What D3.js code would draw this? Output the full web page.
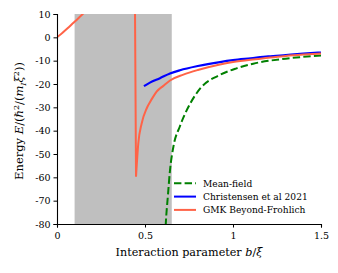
<!DOCTYPE html>
<html>
<head>
<meta charset="utf-8">
<script src="https://cdn.jsdelivr.net/npm/d3@7"></script>
<style>
  body { margin: 0; background: #fff; }
  svg text { font-family: "DejaVu Serif", serif; fill: #000; }
</style>
</head>
<body>
<div id="chart"></div>
<script>
// values
const xTicks = [0, 0.5, 1, 1.5];
const yTicks = [10, 0, -10, -20, -30, -40, -50, -60, -70, -80];
const shadeRange = [0.1, 0.652];

const meanField = [
  [0.612, -90], [0.618, -80], [0.63, -68], [0.642, -57], [0.661, -47], [0.699, -38],
  [0.756, -28.5], [0.815, -21.8], [0.926, -16.1], [1.02, -13.3], [1.115, -11.3],
  [1.267, -9.4], [1.38, -8.5], [1.5, -7.8]
];
const christensen = [
  [0.494, -20.9], [0.528, -19.4], [0.585, -17.5], [0.642, -15.5], [0.699, -14.1],
  [0.8, -12.3], [0.926, -10.6], [1.0, -9.8], [1.1, -9.0], [1.2, -8.2],
  [1.3, -7.6], [1.4, -7.0], [1.5, -6.5]
];
const gmkLeft = [
  [0, 0], [0.03, 1.9], [0.06, 3.9], [0.09, 6.0], [0.12, 8.1], [0.16, 11]
];
const gmkRight = [
  [0.443, 14], [0.449, -59.7], [0.462, -45.4], [0.481, -36.9], [0.51, -30.4],
  [0.528, -27.8], [0.547, -25.4], [0.566, -23.3], [0.604, -20.8], [0.642, -18.5],
  [0.718, -16], [0.8, -14], [0.926, -11.6], [1.0, -10.6], [1.1, -9.6], [1.2, -8.8],
  [1.3, -8.0], [1.4, -7.4], [1.5, -6.9]
];

const width = 338, height = 273;
const margin = { left: 57, right: 17, top: 14, bottom: 49 };

const svg = d3.select("#chart").append("svg")
  .attr("width", width).attr("height", height);

const x = d3.scaleLinear().domain([0, 1.5]).range([margin.left, width - margin.right]);
const y = d3.scaleLinear().domain([-80, 10]).range([height - margin.bottom, margin.top]);

svg.append("defs").append("clipPath").attr("id", "plot-clip")
  .append("rect")
  .attr("x", x(0)).attr("y", y(10))
  .attr("width", x(1.5) - x(0)).attr("height", y(-80) - y(10));

// shaded region
svg.append("rect")
  .attr("x", x(shadeRange[0])).attr("y", y(10))
  .attr("width", x(shadeRange[1]) - x(shadeRange[0]))
  .attr("height", y(-80) - y(10))
  .attr("fill", "#bfbfbf");

const line = d3.line().x(d => x(d[0])).y(d => y(d[1])).curve(d3.curveMonotoneX);
const plot = svg.append("g").attr("clip-path", "url(#plot-clip)");

plot.append("path").attr("d", line(meanField))
  .attr("fill", "none").attr("stroke", "green").attr("stroke-width", 2)
  .attr("stroke-dasharray", "7.4,3.2");
plot.append("path").attr("d", line(christensen))
  .attr("fill", "none").attr("stroke", "blue").attr("stroke-width", 2.2);
plot.append("path").attr("d", line(gmkLeft))
  .attr("fill", "none").attr("stroke", "tomato").attr("stroke-width", 2);
// the spike is a straight drop, then a smooth rise
const spike = d3.line().x(d => x(d[0])).y(d => y(d[1]))(gmkRight.slice(0, 2));
plot.append("path").attr("d", spike + line(gmkRight.slice(1)).replace(/^M[^A-Za-z]*/, ""))
  .attr("fill", "none").attr("stroke", "tomato").attr("stroke-width", 2);

// axes
const xAxis = svg.append("g")
  .attr("transform", `translate(0,${y(-80)})`)
  .call(d3.axisBottom(x).tickValues(xTicks).tickFormat(d3.format("")).tickSize(3.5).tickPadding(5));
const yAxis = svg.append("g")
  .attr("transform", `translate(${x(0)},0)`)
  .call(d3.axisLeft(y).tickValues(yTicks).tickFormat(d => String(d)).tickSize(3.5).tickPadding(3));
[xAxis, yAxis].forEach(a => {
  a.select(".domain").attr("stroke-width", 1.1);
  a.selectAll(".tick line").attr("stroke-width", 1);
  a.selectAll(".tick text").attr("font-size", 9.5).attr("font-family", "DejaVu Serif");
});

// axis labels
const xl = svg.append("text")
  .attr("x", (x(0) + x(1.5)) / 2).attr("y", 256)
  .attr("text-anchor", "middle").attr("font-size", 11.2);
xl.append("tspan").text("Interaction parameter ");
xl.append("tspan").attr("font-style", "italic").text("b");
xl.append("tspan").text("/");
xl.append("tspan").attr("font-style", "italic").text("ξ");

const yl = svg.append("text")
  .attr("transform", `translate(23,121) rotate(-90)`)
  .attr("text-anchor", "middle").attr("font-size", 11.5);
yl.append("tspan").text("Energy ");
yl.append("tspan").attr("font-style", "italic").text("E");
yl.append("tspan").text("/(");
yl.append("tspan").attr("font-style", "italic").text("ℏ");
yl.append("tspan").attr("font-size", 8).attr("dy", -4).text("2");
yl.append("tspan").attr("dy", 4).text("/(");
yl.append("tspan").attr("font-style", "italic").text("m");
yl.append("tspan").attr("font-style", "italic").attr("font-size", 8).attr("dy", 2.5).text("I");
yl.append("tspan").attr("dy", -2.5).attr("font-style", "italic").text("ξ");
yl.append("tspan").attr("font-size", 8).attr("dy", -4).text("2");
yl.append("tspan").attr("dy", 4).text("))");

// legend
const legendItems = [
  { label: "Mean-field", color: "green", dash: "7.4,3.2" },
  { label: "Christensen et al 2021", color: "blue", dash: null },
  { label: "GMK Beyond-Frohlich", color: "tomato", dash: null }
];
const legend = svg.append("g");
legendItems.forEach((d, i) => {
  const ly = 183.3 + i * 13.3;
  legend.append("line")
    .attr("x1", 174).attr("x2", 196).attr("y1", ly).attr("y2", ly)
    .attr("stroke", d.color).attr("stroke-width", 2)
    .attr("stroke-dasharray", d.dash);
  legend.append("text")
    .attr("x", 203).attr("y", ly + 3.3)
    .attr("font-size", 9.1).text(d.label);
});
</script>
</body>
</html>
